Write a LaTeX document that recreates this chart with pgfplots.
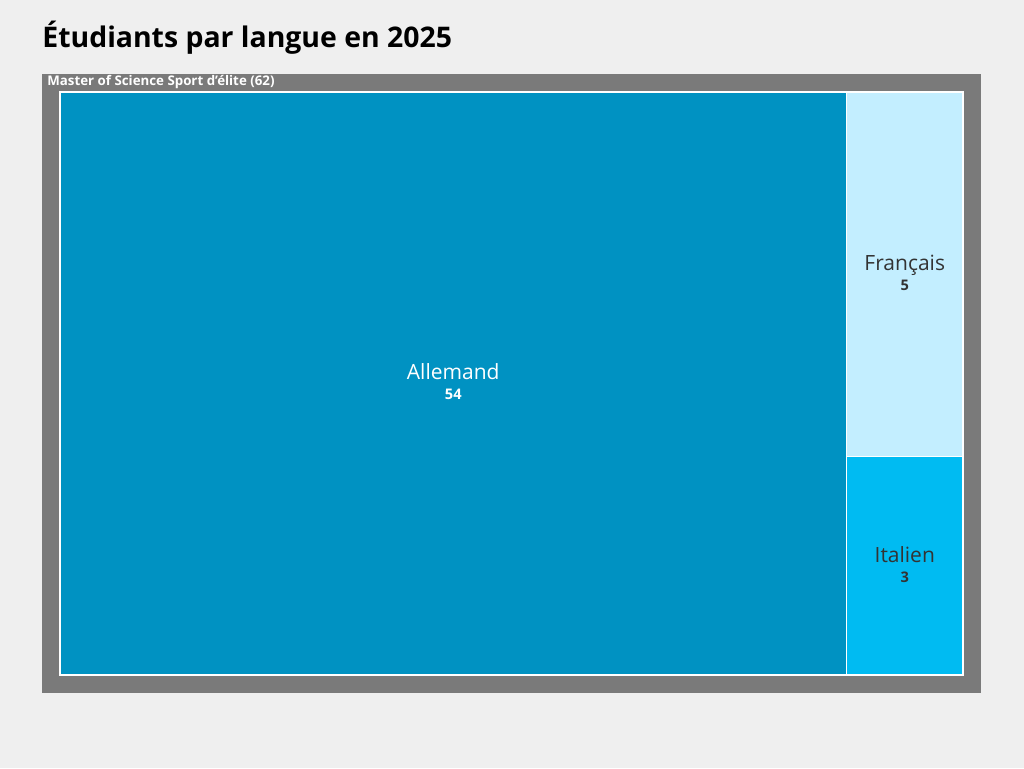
\documentclass[border=0pt]{standalone}
\usepackage{pgfplots}
\pgfplotsset{compat=1.18}
\usepackage{fontspec}
\setmainfont{Open Sans}
\definecolor{bgc}{RGB}{239,239,239}
\definecolor{frame}{RGB}{122,122,122}
\definecolor{deC}{RGB}{0,146,194}
\definecolor{frC}{RGB}{195,238,255}
\definecolor{itC}{RGB}{0,187,242}
\definecolor{txt}{RGB}{51,51,51}
\begin{document}
\begin{tikzpicture}
% 1 px = 0.5pt ; x unit = value, inner area 62 x 8
\begin{axis}[
  width=512pt, height=384pt, scale only axis,
  xmin=-4.1196, xmax=66.187,
  ymin=-1.2762, ymax=9.2624,
  axis lines=none, clip=false,
  axis background/.style={fill=bgc},
]
% frame (Master of Science Sport d'élite, 62)
\addplot[fill=frame, draw=none] coordinates {(-1.236,-0.247) (63.236,-0.247) (63.236,8.247) (-1.236,8.247)} -- cycle;
% Allemand 54
\addplot[fill=deC, draw=white, line width=0.75pt] coordinates {(0,0) (54,0) (54,8) (0,8)} -- cycle;
% Français 5
\addplot[fill=frC, draw=white, line width=0.75pt] coordinates {(54,3) (62,3) (62,8) (54,8)} -- cycle;
% Italien 3
\addplot[fill=itC, draw=white, line width=0.75pt] coordinates {(54,0) (62,0) (62,3) (54,3)} -- cycle;

\node[anchor=west, inner sep=0pt, font=\fontsize{14.2}{17}\selectfont\bfseries] at (axis cs:-1.236,8.741) {Étudiants par langue en 2025};
\node[anchor=west, inner sep=0pt, text=white, font=\fontsize{6.65}{7.5}\selectfont\bfseries] at (axis cs:-0.893,8.137) {Master of Science Sport d’élite (62)};

\node[text=white, align=center, font=\fontsize{10.5}{12.5}\selectfont] at (axis cs:27,4.02) {Allemand\\[-2.5pt]{\fontsize{7.3}{8}\selectfont\bfseries 54}};
\node[text=txt, align=center, font=\fontsize{10.5}{12.5}\selectfont] at (axis cs:58,5.52) {Français\\[-2.5pt]{\fontsize{7.3}{8}\selectfont\bfseries 5}};
\node[text=txt, align=center, font=\fontsize{10.5}{12.5}\selectfont] at (axis cs:58,1.52) {Italien\\[-2.5pt]{\fontsize{7.3}{8}\selectfont\bfseries 3}};
\end{axis}
\end{tikzpicture}
\end{document}
